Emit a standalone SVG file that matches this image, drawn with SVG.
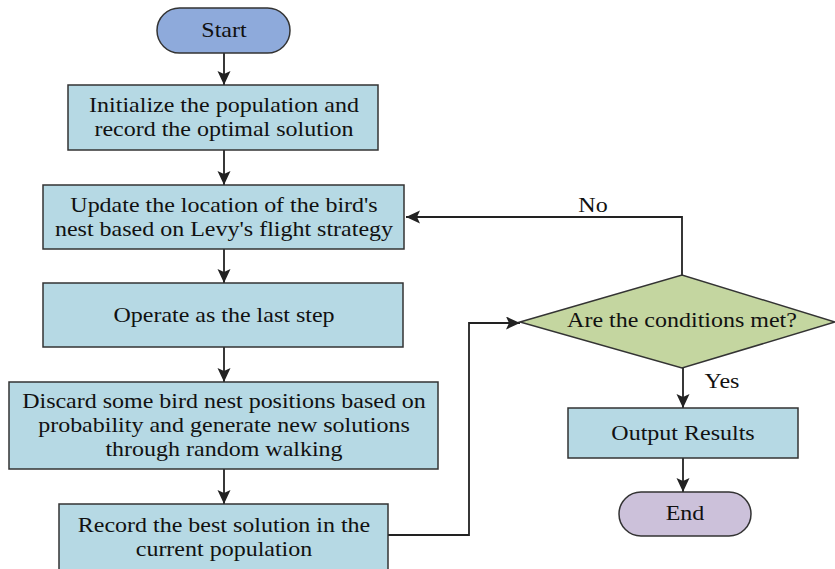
<svg xmlns="http://www.w3.org/2000/svg" width="835" height="569" viewBox="0 0 835 569">
<style>
.box{fill:#b6d9e4;stroke:#333;stroke-width:1.5}
.t{font-family:"Liberation Serif","Times New Roman",serif;font-size:20px;fill:#111;text-anchor:middle}
.c{fill:none;stroke:#222;stroke-width:1.8}
</style>
<defs>
<marker id="ah" markerUnits="userSpaceOnUse" markerWidth="16" markerHeight="14" refX="14" refY="6.5" orient="auto">
<path d="M0,0 L14,6.5 L0,13 L3,6.5 z" fill="#222"/>
</marker>
</defs>
<rect width="835" height="569" fill="#fff"/>
<g id="connectors">
<line class="c" x1="224" y1="53" x2="224" y2="85" marker-end="url(#ah)"/>
<line class="c" x1="224" y1="150" x2="224" y2="185" marker-end="url(#ah)"/>
<line class="c" x1="224" y1="249" x2="224" y2="283" marker-end="url(#ah)"/>
<line class="c" x1="224" y1="347" x2="224" y2="382" marker-end="url(#ah)"/>
<line class="c" x1="224" y1="469" x2="224" y2="504" marker-end="url(#ah)"/>
<polyline class="c" points="388,535 469,535 469,323 520,323" marker-end="url(#ah)"/>
<polyline class="c" points="682,275 682,217 406,217" marker-end="url(#ah)"/>
<line class="c" x1="683" y1="368" x2="683" y2="408" marker-end="url(#ah)"/>
<line class="c" x1="683" y1="458" x2="683" y2="492" marker-end="url(#ah)"/>
<text class="t" transform="matrix(1.2 0 0 1 593 212)">No</text>
<text class="t" transform="matrix(1.2 0 0 1 722 388)">Yes</text>
</g>
<g id="start">
<rect x="157" y="8" width="133" height="45" rx="22.5" fill="#8eaadb" stroke="#333" stroke-width="1.5"/>
<text class="t" transform="matrix(1.2 0 0 1 224 37)">Start</text>
</g>
<g id="init">
<rect class="box" x="68" y="85" width="310" height="65"/>
<text class="t" transform="matrix(1.2 0 0 1 224 112)">Initialize the population and</text>
<text class="t" transform="matrix(1.2 0 0 1 224 136)">record the optimal solution</text>
</g>
<g id="update">
<rect class="box" x="43" y="185" width="361" height="64"/>
<text class="t" transform="matrix(1.2 0 0 1 224 212)">Update the location of the bird's</text>
<text class="t" transform="matrix(1.2 0 0 1 224 236)">nest based on Levy's flight strategy</text>
</g>
<g id="operate">
<rect class="box" x="43" y="283" width="360" height="64"/>
<text class="t" transform="matrix(1.2 0 0 1 224 322)">Operate as the last step</text>
</g>
<g id="discard">
<rect class="box" x="9" y="382" width="429" height="87"/>
<text class="t" transform="matrix(1.2 0 0 1 224 408)">Discard some bird nest positions based on</text>
<text class="t" transform="matrix(1.2 0 0 1 224 432)">probability and generate new solutions</text>
<text class="t" transform="matrix(1.2 0 0 1 224 456)">through random walking</text>
</g>
<g id="record">
<rect class="box" x="59" y="504" width="329" height="72"/>
<text class="t" transform="matrix(1.2 0 0 1 224 532)">Record the best solution in the</text>
<text class="t" transform="matrix(1.2 0 0 1 224 556)">current population</text>
</g>
<g id="decision">
<polygon points="520,322 682,275 835,322 682,368" fill="#c4d6a0" stroke="#333" stroke-width="1.5"/>
<text class="t" transform="matrix(1.2 0 0 1 682 327)">Are the conditions met?</text>
</g>
<g id="output">
<rect class="box" x="568" y="408" width="230" height="50"/>
<text class="t" transform="matrix(1.2 0 0 1 683 440)">Output Results</text>
</g>
<g id="end">
<rect x="619" y="492" width="132" height="44" rx="22" fill="#ccc1da" stroke="#333" stroke-width="1.5"/>
<text class="t" transform="matrix(1.2 0 0 1 685 520)">End</text>
</g>
</svg>
